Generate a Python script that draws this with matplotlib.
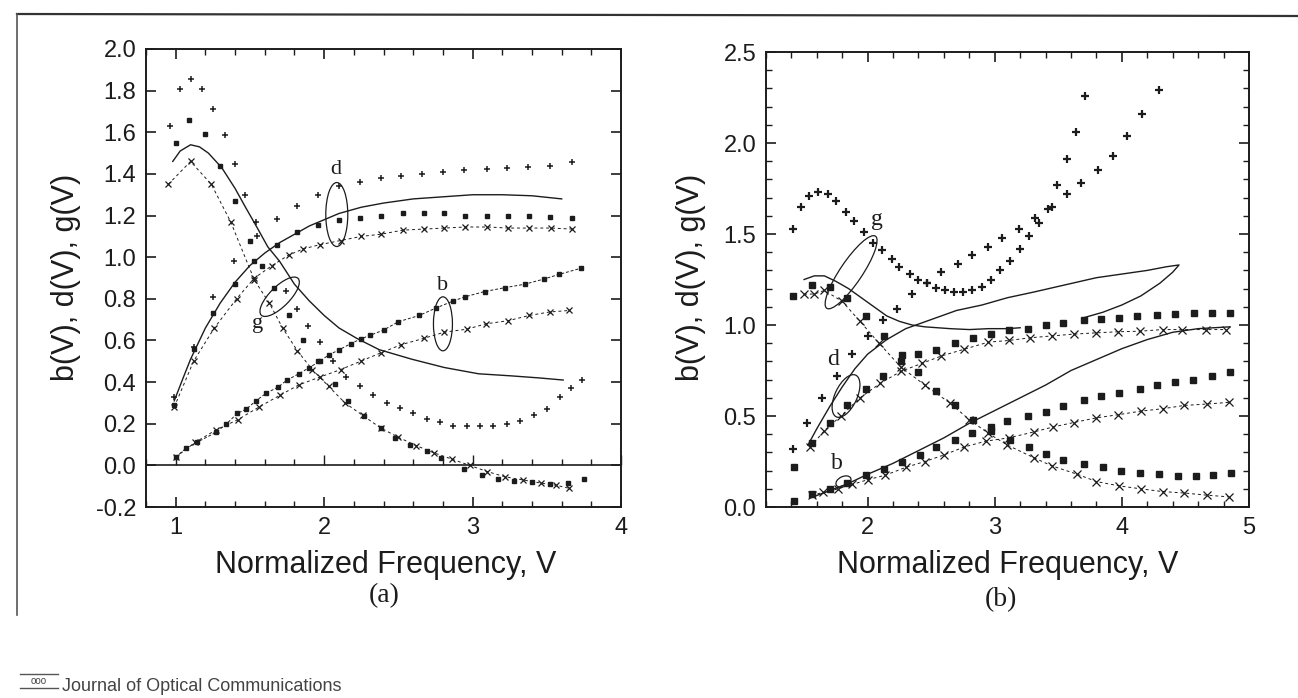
import matplotlib
matplotlib.use("Agg")
import matplotlib.pyplot as plt
import matplotlib.transforms as transforms
from matplotlib.patches import Ellipse
from matplotlib.lines import Line2D
from matplotlib.ticker import MultipleLocator, FormatStrFormatter

plt.rcParams['font.family'] = ['Liberation Sans', 'DejaVu Sans']

# ---------------- panel (a) ----------------
# g family
ga_line_x = [0.98, 1.03, 1.10, 1.16, 1.22, 1.31, 1.40, 1.47, 1.55, 1.62, 1.70, 1.80, 1.90, 2.00, 2.10, 2.22, 2.37, 2.59, 2.81, 3.04, 3.26, 3.45, 3.61]
ga_line_y = [1.46, 1.51, 1.54, 1.53, 1.50, 1.43, 1.33, 1.24, 1.14, 1.05, 0.98, 0.87, 0.79, 0.72, 0.66, 0.61, 0.556, 0.51, 0.47, 0.44, 0.43, 0.42, 0.41]
ga_dot_x = [1.00, 1.09, 1.20, 1.30, 1.40, 1.50, 1.58, 1.66, 1.76, 1.86, 1.96, 2.07, 2.16, 2.27, 2.38, 2.48, 2.58, 2.69, 2.79, 2.94, 3.06, 3.17, 3.28, 3.40, 3.52, 3.64, 3.75]
ga_dot_y = [1.55, 1.66, 1.59, 1.44, 1.27, 1.08, 0.96, 0.85, 0.72, 0.60, 0.50, 0.39, 0.31, 0.235, 0.18, 0.13, 0.10, 0.07, 0.035, -0.015, -0.045, -0.065, -0.076, -0.08, -0.09, -0.085, -0.066]
ga_x_x = [0.95, 1.10, 1.24, 1.37, 1.53, 1.63, 1.72, 1.82, 1.92, 2.03, 2.14, 2.26, 2.38, 2.50, 2.62, 2.74, 2.86, 2.98, 3.10, 3.22, 3.34, 3.46, 3.56, 3.65]
ga_x_y = [1.35, 1.46, 1.35, 1.17, 0.89, 0.78, 0.66, 0.55, 0.46, 0.38, 0.30, 0.24, 0.18, 0.135, 0.095, 0.06, 0.03, 0.0, -0.03, -0.055, -0.07, -0.085, -0.095, -0.11]
ga_plus_x = [0.96, 1.03, 1.10, 1.18, 1.25, 1.33, 1.40, 1.47, 1.54, 1.74, 1.82, 1.89, 1.97, 2.06, 2.15, 2.24, 2.33, 2.42, 2.51, 2.60, 2.69, 2.78, 2.87, 2.96, 3.05, 3.14, 3.23, 3.32, 3.41, 3.50, 3.59, 3.66, 3.74]
ga_plus_y = [1.63, 1.81, 1.855, 1.81, 1.71, 1.585, 1.45, 1.30, 1.17, 0.84, 0.75, 0.67, 0.595, 0.50, 0.425, 0.38, 0.34, 0.30, 0.275, 0.25, 0.225, 0.21, 0.19, 0.19, 0.19, 0.19, 0.20, 0.215, 0.24, 0.27, 0.33, 0.37, 0.41]

# d family
da_line_x = [0.99, 1.05, 1.10, 1.20, 1.30, 1.40, 1.50, 1.60, 1.70, 1.80, 1.90, 2.00, 2.10, 2.25, 2.40, 2.60, 2.80, 3.00, 3.20, 3.40, 3.60]
da_line_y = [0.31, 0.42, 0.51, 0.66, 0.78, 0.88, 0.96, 1.02, 1.07, 1.11, 1.15, 1.18, 1.21, 1.24, 1.26, 1.28, 1.29, 1.30, 1.30, 1.295, 1.28]
da_dot_x = [0.99, 1.12, 1.25, 1.40, 1.53, 1.68, 1.82, 1.96, 2.10, 2.24, 2.38, 2.53, 2.67, 2.81, 2.95, 3.10, 3.24, 3.38, 3.52, 3.67]
da_dot_y = [0.29, 0.56, 0.73, 0.87, 0.98, 1.06, 1.12, 1.156, 1.18, 1.19, 1.20, 1.21, 1.21, 1.21, 1.20, 1.20, 1.20, 1.197, 1.194, 1.19]
da_x_x = [0.99, 1.12, 1.26, 1.41, 1.53, 1.65, 1.76, 1.86, 1.97, 2.11, 2.25, 2.38, 2.53, 2.67, 2.81, 2.95, 3.10, 3.24, 3.38, 3.53, 3.67]
da_x_y = [0.28, 0.50, 0.66, 0.80, 0.90, 0.96, 1.01, 1.04, 1.06, 1.08, 1.10, 1.11, 1.13, 1.135, 1.14, 1.145, 1.145, 1.14, 1.14, 1.14, 1.135]
da_plus_x = [0.99, 1.12, 1.25, 1.39, 1.55, 1.68, 1.82, 1.96, 2.10, 2.24, 2.38, 2.52, 2.66, 2.80, 2.94, 3.10, 3.23, 3.37, 3.52, 3.67]
da_plus_y = [0.33, 0.57, 0.81, 0.98, 1.10, 1.185, 1.245, 1.30, 1.34, 1.36, 1.38, 1.39, 1.40, 1.41, 1.42, 1.425, 1.43, 1.435, 1.44, 1.455]

# b family
ba_dot_x = [1.00, 1.07, 1.14, 1.27, 1.34, 1.415, 1.475, 1.54, 1.61, 1.69, 1.75, 1.83, 1.90, 1.97, 2.03, 2.10, 2.18, 2.245, 2.31, 2.40, 2.50, 2.64, 2.75, 2.87, 2.95, 3.08, 3.22, 3.35, 3.48, 3.58, 3.73]
ba_dot_y = [0.04, 0.083, 0.11, 0.158, 0.198, 0.25, 0.27, 0.31, 0.347, 0.376, 0.41, 0.44, 0.47, 0.50, 0.53, 0.555, 0.585, 0.607, 0.625, 0.65, 0.69, 0.72, 0.755, 0.79, 0.81, 0.835, 0.854, 0.87, 0.895, 0.917, 0.947]
ba_x_x = [1.00, 1.13, 1.27, 1.42, 1.56, 1.70, 1.83, 1.97, 2.11, 2.245, 2.38, 2.52, 2.67, 2.81, 2.96, 3.09, 3.24, 3.38, 3.52, 3.65]
ba_x_y = [0.04, 0.11, 0.17, 0.22, 0.28, 0.336, 0.387, 0.424, 0.46, 0.50, 0.54, 0.58, 0.61, 0.64, 0.654, 0.68, 0.695, 0.72, 0.737, 0.744]

# ---------------- panel (b) ----------------
gb_line_x = [1.50, 1.58, 1.66, 1.75, 1.85, 1.95, 2.05, 2.15, 2.25, 2.35, 2.45, 2.55, 2.65, 2.80, 2.95, 3.10, 3.20]
gb_line_y = [1.25, 1.27, 1.27, 1.24, 1.20, 1.15, 1.10, 1.05, 1.02, 1.00, 0.99, 0.985, 0.98, 0.975, 0.98, 0.98, 0.985]
gb_dot_x = [1.41, 1.56, 1.70, 1.84, 1.99, 2.13, 2.27, 2.40, 2.54, 2.69, 2.83, 2.97, 3.12, 3.27, 3.40, 3.54, 3.70, 3.85, 3.99, 4.14, 4.29, 4.44, 4.58, 4.72, 4.86]
gb_dot_y = [1.16, 1.22, 1.21, 1.15, 1.05, 0.94, 0.835, 0.74, 0.64, 0.56, 0.48, 0.42, 0.37, 0.33, 0.29, 0.26, 0.235, 0.22, 0.20, 0.187, 0.18, 0.17, 0.17, 0.175, 0.185]
gb_x_x = [1.50, 1.58, 1.66, 1.80, 1.94, 2.09, 2.26, 2.45, 2.65, 2.80, 2.95, 3.10, 3.31, 3.45, 3.65, 3.80, 3.98, 4.15, 4.32, 4.49, 4.67, 4.84]
gb_x_y = [1.17, 1.17, 1.19, 1.13, 1.02, 0.90, 0.77, 0.67, 0.57, 0.48, 0.405, 0.34, 0.27, 0.226, 0.18, 0.14, 0.116, 0.10, 0.085, 0.077, 0.065, 0.056]
gb_plus_x = [1.41, 1.475, 1.54, 1.61, 1.685, 1.755, 1.83, 1.895, 1.97, 2.045, 2.11, 2.19, 2.25, 2.33, 2.40, 2.465, 2.54, 2.61, 2.68, 2.75, 2.82, 2.90, 2.97, 3.04, 3.12, 3.20, 3.27, 3.35, 3.45, 3.57, 3.68, 3.81, 3.93, 4.04, 4.16, 4.29]
gb_plus_y = [1.53, 1.65, 1.71, 1.73, 1.72, 1.68, 1.62, 1.57, 1.51, 1.45, 1.41, 1.36, 1.32, 1.28, 1.25, 1.23, 1.205, 1.19, 1.18, 1.18, 1.19, 1.21, 1.25, 1.30, 1.35, 1.42, 1.49, 1.56, 1.65, 1.72, 1.78, 1.85, 1.93, 2.04, 2.16, 2.29]

db_line_x = [1.53, 1.60, 1.70, 1.80, 1.90, 2.00, 2.15, 2.30, 2.50, 2.70, 2.90, 3.10, 3.30, 3.55, 3.80, 4.00, 4.20, 4.35, 4.45, 4.40, 4.30, 4.15, 4.00, 3.85, 3.70]
db_line_y = [0.34, 0.43, 0.55, 0.66, 0.76, 0.84, 0.92, 0.98, 1.03, 1.08, 1.11, 1.15, 1.18, 1.22, 1.26, 1.28, 1.30, 1.32, 1.33, 1.29, 1.23, 1.16, 1.11, 1.07, 1.04]
db_dot_x = [1.42, 1.56, 1.70, 1.84, 1.99, 2.12, 2.26, 2.40, 2.54, 2.69, 2.83, 2.97, 3.11, 3.26, 3.40, 3.54, 3.70, 3.84, 3.98, 4.12, 4.28, 4.42, 4.57, 4.71, 4.85]
db_dot_y = [0.22, 0.35, 0.46, 0.56, 0.65, 0.72, 0.80, 0.84, 0.86, 0.90, 0.93, 0.95, 0.97, 0.98, 1.00, 1.01, 1.025, 1.035, 1.04, 1.048, 1.054, 1.06, 1.065, 1.068, 1.068]
db_x_x = [1.55, 1.66, 1.79, 1.94, 2.10, 2.26, 2.43, 2.58, 2.76, 2.95, 3.11, 3.28, 3.45, 3.62, 3.80, 3.97, 4.14, 4.32, 4.47, 4.66, 4.82]
db_x_y = [0.33, 0.42, 0.50, 0.60, 0.68, 0.745, 0.79, 0.83, 0.867, 0.906, 0.915, 0.93, 0.94, 0.95, 0.957, 0.963, 0.966, 0.975, 0.975, 0.975, 0.975]
db_plus_x = [1.41, 1.52, 1.64, 1.76, 1.88, 2.00, 2.12, 2.23, 2.35, 2.47, 2.58, 2.71, 2.82, 2.95, 3.06, 3.19, 3.32, 3.42, 3.49, 3.57, 3.64, 3.71]
db_plus_y = [0.32, 0.46, 0.60, 0.72, 0.84, 0.94, 1.03, 1.09, 1.17, 1.23, 1.29, 1.335, 1.385, 1.43, 1.48, 1.53, 1.59, 1.64, 1.77, 1.91, 2.06, 2.26]

bb_line_x = [1.55, 1.70, 1.85, 2.00, 2.20, 2.40, 2.60, 2.80, 3.00, 3.20, 3.40, 3.60, 3.80, 4.00, 4.20, 4.40, 4.60, 4.85]
bb_line_y = [0.05, 0.09, 0.13, 0.18, 0.24, 0.31, 0.38, 0.46, 0.53, 0.60, 0.67, 0.75, 0.81, 0.87, 0.92, 0.96, 0.98, 0.99]
bb_dot_x = [1.42, 1.56, 1.70, 1.84, 1.99, 2.13, 2.27, 2.41, 2.54, 2.69, 2.82, 2.97, 3.10, 3.26, 3.40, 3.54, 3.70, 3.84, 3.98, 4.14, 4.28, 4.42, 4.56, 4.71, 4.85]
bb_dot_y = [0.034, 0.07, 0.10, 0.13, 0.175, 0.21, 0.25, 0.286, 0.33, 0.37, 0.405, 0.44, 0.47, 0.50, 0.52, 0.554, 0.59, 0.61, 0.626, 0.65, 0.668, 0.685, 0.70, 0.72, 0.74]
bb_x_x = [1.56, 1.65, 1.77, 1.88, 2.00, 2.14, 2.30, 2.45, 2.60, 2.76, 2.93, 3.11, 3.31, 3.46, 3.62, 3.80, 3.97, 4.15, 4.32, 4.49, 4.67, 4.84]
bb_x_y = [0.065, 0.08, 0.10, 0.124, 0.15, 0.175, 0.218, 0.25, 0.286, 0.33, 0.362, 0.38, 0.413, 0.44, 0.464, 0.49, 0.507, 0.527, 0.54, 0.558, 0.566, 0.575]

ink = '#1c1c1c'

fig = plt.figure(figsize=(12.98, 6.98), dpi=100)
axa = fig.add_axes([0.1125, 0.2736, 0.3660, 0.6562])
axb = fig.add_axes([0.5901, 0.2736, 0.3721, 0.6519])


def solid(ax, x, y):
    ax.plot(x, y, '-', color=ink, lw=1.0)


def dots(ax, x, y, ms=2.6, ls='none'):
    ax.plot(x, y, ls=ls, lw=0.7, marker='s', ms=ms, color=ink, mec=ink)


def crosses(ax, x, y, ms=5):
    ax.plot(x, y, ls=(0, (3, 3)), lw=0.7, marker='x', ms=ms, mew=0.9, color=ink)


def pluses(ax, x, y, ms=5, mew=1.1):
    ax.plot(x, y, ls='none', marker='+', ms=ms, mew=mew, color=ink)


def ring(ax, x, y, w, h, angle=0):
    # ring sized in pixels, centred on a data point
    trans = fig.dpi_scale_trans + transforms.ScaledTranslation(x, y, ax.transData)
    ax.add_patch(Ellipse((0, 0), w / 100, h / 100, angle=angle, transform=trans,
                         fill=False, lw=0.9, ec=ink))


# panel (a)
solid(axa, ga_line_x, ga_line_y)
dots(axa, ga_dot_x, ga_dot_y)
crosses(axa, ga_x_x, ga_x_y)
pluses(axa, ga_plus_x, ga_plus_y)
solid(axa, da_line_x, da_line_y)
dots(axa, da_dot_x, da_dot_y)
crosses(axa, da_x_x, da_x_y)
pluses(axa, da_plus_x, da_plus_y)
dots(axa, ba_dot_x, ba_dot_y, ls=(0, (3, 2)))
crosses(axa, ba_x_x, ba_x_y)
axa.axhline(0, color=ink, lw=1.2)

ring(axa, 2.085, 1.205, 22, 64)
ring(axa, 2.80, 0.68, 19, 54)
ring(axa, 1.70, 0.81, 52, 20, 45)
axa.text(2.08, 1.42, 'd', family='Liberation Serif', fontsize=16, ha='center', va='center', color=ink)
axa.text(2.80, 0.865, 'b', family='Liberation Serif', fontsize=16, ha='center', va='center', color=ink)
axa.text(1.55, 0.68, 'g', family='Liberation Serif', fontsize=16, ha='center', va='center', color=ink)

axa.set_xlim(0.8, 4.0)
axa.set_ylim(-0.2, 2.0)
axa.xaxis.set_major_locator(MultipleLocator(1))
axa.xaxis.set_minor_locator(MultipleLocator(0.2))
axa.yaxis.set_major_locator(MultipleLocator(0.2))
axa.yaxis.set_major_formatter(FormatStrFormatter('%.1f'))

zero = axa.secondary_xaxis(0.2 / 2.2)
zero.xaxis.set_major_locator(MultipleLocator(1))
zero.xaxis.set_minor_locator(MultipleLocator(0.2))
zero.tick_params(which='both', direction='in', labelbottom=False, color=ink, width=1.0)
zero.tick_params(which='major', length=7)
zero.tick_params(which='minor', length=4)
zero.spines['bottom'].set_visible(False)

# panel (b)
solid(axb, gb_line_x, gb_line_y)
dots(axb, gb_dot_x, gb_dot_y, ms=4.2)
crosses(axb, gb_x_x, gb_x_y, ms=5.5)
pluses(axb, gb_plus_x, gb_plus_y, ms=6, mew=1.6)
solid(axb, db_line_x, db_line_y)
dots(axb, db_dot_x, db_dot_y, ms=4.2)
crosses(axb, db_x_x, db_x_y, ms=5.5)
pluses(axb, db_plus_x, db_plus_y, ms=6, mew=1.6)
solid(axb, bb_line_x, bb_line_y)
dots(axb, bb_dot_x, bb_dot_y, ms=4.2)
crosses(axb, bb_x_x, bb_x_y, ms=5.5)

ring(axb, 1.87, 1.29, 87, 22, 56)
ring(axb, 1.83, 0.61, 46, 22, 65)
ring(axb, 1.81, 0.14, 16, 10, 25)
axb.text(2.07, 1.58, 'g', family='Liberation Serif', fontsize=17, ha='center', va='center', color=ink)
axb.text(1.73, 0.81, 'd', family='Liberation Serif', fontsize=17, ha='center', va='center', color=ink)
axb.text(1.76, 0.24, 'b', family='Liberation Serif', fontsize=17, ha='center', va='center', color=ink)

axb.set_xlim(1.2, 5.0)
axb.set_ylim(0, 2.5)
axb.xaxis.set_major_locator(MultipleLocator(1))
axb.xaxis.set_minor_locator(MultipleLocator(0.2))
axb.yaxis.set_major_locator(MultipleLocator(0.5))
axb.yaxis.set_minor_locator(MultipleLocator(0.1))
axb.yaxis.set_major_formatter(FormatStrFormatter('%.1f'))

for ax in (axa, axb):
    for s in ax.spines.values():
        s.set_linewidth(1.4)
        s.set_color(ink)
    ax.tick_params(which='both', direction='in', top=True, right=True, color=ink,
                   labelsize=17, labelcolor=ink)
    ax.tick_params(which='major', length=7, width=1.2, pad=7)
    ax.tick_params(which='minor', length=4, width=1.0)

# axis titles placed as figure text
fig.text(386 / 1298, 1 - 573 / 698, 'Normalized Frequency, V', fontsize=22, ha='center', va='baseline', color=ink)
fig.text(1008 / 1298, 1 - 573 / 698, 'Normalized Frequency, V', fontsize=22, ha='center', va='baseline', color=ink)
fig.text(66 / 1298, 1 - 277 / 698, 'b(V), d(V), g(V)', fontsize=22, rotation=90, ha='center', va='center', color=ink)
fig.text(691 / 1298, 1 - 277 / 698, 'b(V), d(V), g(V)', fontsize=22, rotation=90, ha='center', va='center', color=ink)
fig.text(384 / 1298, 1 - 596 / 698, '(a)', family='Liberation Serif', fontsize=20, ha='center', va='center', color=ink)
fig.text(1001 / 1298, 1 - 600 / 698, '(b)', family='Liberation Serif', fontsize=20, ha='center', va='center', color=ink)

# page frame from the scan
fig.add_artist(Line2D([17 / 1298, 1.0], [1 - 14 / 698, 1 - 16 / 698], transform=fig.transFigure, color='#333333', lw=1.6))
fig.add_artist(Line2D([17 / 1298, 17 / 1298], [1 - 14 / 698, 1 - 615 / 698], transform=fig.transFigure, color='#555555', lw=1.2))
fig.add_artist(Line2D([20 / 1298, 58 / 1298], [1 - 674 / 698, 1 - 674 / 698], transform=fig.transFigure, color='#555555', lw=1.0))
fig.add_artist(Line2D([20 / 1298, 58 / 1298], [1 - 688 / 698, 1 - 688 / 698], transform=fig.transFigure, color='#555555', lw=1.0))
fig.text(39 / 1298, 1 - 681 / 698, 'ooo', fontsize=7, ha='center', va='center', color='#444444')
fig.text(62 / 1298, 3 / 698, 'Journal of Optical Communications', fontsize=13, ha='left', va='bottom', color='#444444')

fig.savefig('out.png', dpi=100)
